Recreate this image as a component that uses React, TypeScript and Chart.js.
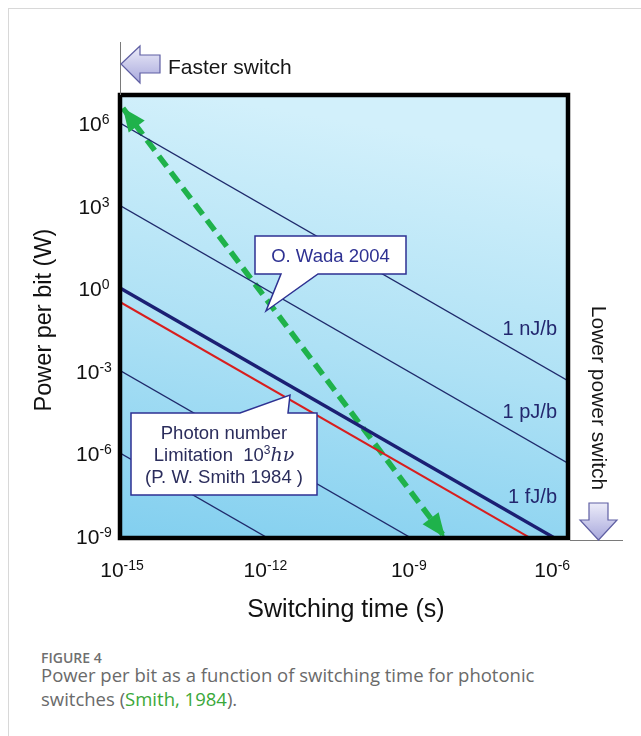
import React, { useEffect, useRef } from "react";
import { Chart, registerables } from "chart.js";

Chart.register(...registerables);

// Constant energy-per-bit lines (J per bit): P = E / t
const energyPerBit = [1e-9, 1e-12, 1e-15, 1e-18, 1e-21];
const energyLabels = ["1 nJ/b", "1 pJ/b", "1 fJ/b", "", ""];
// Photon number limitation 10^3 hν (J per bit)
const photonLimitEnergy = [3.1e-16];
// switching times used to span the constant-energy lines (s)
const lineTimes = [1e-16, 1e-4];
// O. Wada 2004 trend arrow (switching time s, power W)
const wadaTimes = [1.15e-15, 6.3e-9];
const wadaPowers = [3.5e6, 8.5e-10];
// tick exponents
const xTickExp = [-15, -12, -9, -6];
const yTickExp = [6, 3, 0, -3, -6, -9];
// axis limits
const xLimits = [1e-15, 2.355e-6];
const yLimits = [8.13e-10, 1.042e7];

const SANS = '"Liberation Sans", Arial, sans-serif';

function drawRuns(
  ctx: CanvasRenderingContext2D,
  runs: { text: string; font: string; dy: number; color?: string }[],
  cx: number,
  baseline: number,
  color: string
) {
  let total = 0;
  const widths = runs.map((r) => {
    ctx.font = r.font;
    const w = ctx.measureText(r.text).width;
    total += w;
    return w;
  });
  let x = cx - total / 2;
  ctx.textAlign = "left";
  ctx.textBaseline = "alphabetic";
  runs.forEach((r, i) => {
    ctx.font = r.font;
    ctx.fillStyle = r.color || color;
    ctx.fillText(r.text, x, baseline + r.dy);
    x += widths[i];
  });
}

function powerLabel(e: number) {
  return [
    { text: "10", font: `21px ${SANS}`, dy: 0 },
    { text: String(e), font: `14px ${SANS}`, dy: -7 },
  ];
}

const decorPlugin = {
  id: "decor",
  beforeDatasetsDraw(chart: any) {
    const { ctx, chartArea: ca } = chart;
    ctx.save();
    const g = ctx.createLinearGradient(ca.left + 80, ca.top, ca.left, ca.bottom);
    g.addColorStop(0, "#d2f0fb");
    g.addColorStop(0.5, "#aee1f5");
    g.addColorStop(1, "#82cfef");
    ctx.fillStyle = g;
    ctx.fillRect(ca.left, ca.top, ca.right - ca.left, ca.bottom - ca.top);
    ctx.restore();
  },
  afterDatasetsDraw(chart: any) {
    const { ctx, chartArea: ca, scales } = chart;
    const xs = scales.x;
    const ys = scales.y;
    ctx.save();

    // arrowheads on the O. Wada trend
    const wadaIndex = chart.data.datasets.length - 1;
    const pts = chart.getDatasetMeta(wadaIndex).data;
    const head = (tip: any, from: any, len: number, half: number) => {
      const dx = tip.x - from.x;
      const dy = tip.y - from.y;
      const d = Math.hypot(dx, dy);
      const ux = dx / d;
      const uy = dy / d;
      const bx = tip.x - ux * len;
      const by = tip.y - uy * len;
      ctx.beginPath();
      ctx.moveTo(tip.x, tip.y);
      ctx.lineTo(bx - uy * half, by + ux * half);
      ctx.lineTo(bx + uy * half, by - ux * half);
      ctx.closePath();
      ctx.fillStyle = "#1fb24b";
      ctx.fill();
    };
    head(pts[0], pts[1], 23, 10);
    head(pts[1], pts[0], 24, 10);

    // labels of the constant energy lines
    ctx.font = `20px ${SANS}`;
    ctx.fillStyle = "#23276e";
    ctx.textAlign = "left";
    ctx.textBaseline = "alphabetic";
    energyPerBit.forEach((E, i) => {
      const label = energyLabels[i];
      if (!label) return;
      const w = ctx.measureText(label).width;
      const xl = ca.right - 11 - w;
      const t = xs.getValueForPixel(xl);
      const py = ys.getPixelForValue(E / t);
      ctx.fillText(label, xl, py - 8);
    });

    // callout: O. Wada 2004
    ctx.beginPath();
    ctx.moveTo(255, 236);
    ctx.lineTo(406, 236);
    ctx.lineTo(406, 274);
    ctx.lineTo(318, 274);
    ctx.lineTo(266, 311);
    ctx.lineTo(281, 274);
    ctx.lineTo(255, 274);
    ctx.closePath();
    ctx.fillStyle = "#ffffff";
    ctx.fill();
    ctx.strokeStyle = "#2e3192";
    ctx.lineWidth = 1.5;
    ctx.stroke();
    ctx.font = `18.5px ${SANS}`;
    ctx.fillStyle = "#2e3192";
    ctx.textAlign = "center";
    ctx.fillText("O. Wada 2004", 330.5, 262);

    // callout: photon number limitation
    ctx.beginPath();
    ctx.moveTo(131, 413);
    ctx.lineTo(240, 413);
    ctx.lineTo(290, 395);
    ctx.lineTo(288, 413);
    ctx.lineTo(317, 413);
    ctx.lineTo(317, 495);
    ctx.lineTo(131, 495);
    ctx.closePath();
    ctx.fillStyle = "#ffffff";
    ctx.fill();
    ctx.strokeStyle = "#2e3192";
    ctx.lineWidth = 1.5;
    ctx.stroke();
    const tc = "#2b2d5c";
    ctx.font = `18.5px ${SANS}`;
    ctx.fillStyle = tc;
    ctx.textAlign = "center";
    ctx.fillText("Photon number", 224, 439);
    drawRuns(
      ctx,
      [
        { text: "Limitation  10", font: `18.5px ${SANS}`, dy: 0 },
        { text: "3", font: `12px ${SANS}`, dy: -7 },
        { text: "hν", font: `italic 19px "DejaVu Serif", "Liberation Serif", serif`, dy: 0 },
      ],
      224,
      461,
      tc
    );
    ctx.font = `18.5px ${SANS}`;
    ctx.fillStyle = tc;
    ctx.textAlign = "center";
    ctx.fillText("(P. W. Smith 1984 )", 224, 483);

    // plot frame
    ctx.strokeStyle = "#000000";
    ctx.lineWidth = 4.5;
    ctx.strokeRect(ca.left, ca.top, ca.right - ca.left, ca.bottom - ca.top);
    ctx.restore();
  },
  afterDraw(chart: any) {
    const { ctx, chartArea: ca, scales } = chart;
    const xs = scales.x;
    const ys = scales.y;
    ctx.save();

    // tick labels
    xTickExp.forEach((e) => {
      const px = xs.getPixelForValue(Math.pow(10, e));
      drawRuns(ctx, powerLabel(e), px + 2, 577, "#111111");
    });
    yTickExp.forEach((e) => {
      const py = ys.getPixelForValue(Math.pow(10, e));
      drawRuns(ctx, powerLabel(e), 94, py + 8, "#111111");
    });

    // axis titles
    ctx.fillStyle = "#111111";
    ctx.font = `25px ${SANS}`;
    ctx.textAlign = "center";
    ctx.textBaseline = "alphabetic";
    ctx.fillText("Switching time (s)", (ca.left + ca.right) / 2 + 2, 617);
    ctx.save();
    ctx.translate(45, 320);
    ctx.rotate(-Math.PI / 2);
    ctx.font = `23.5px ${SANS}`;
    ctx.textBaseline = "middle";
    ctx.fillText("Power per bit (W)", 0, 0);
    ctx.restore();

    // axis extension lines
    ctx.strokeStyle = "#7a7a7a";
    ctx.lineWidth = 1;
    ctx.beginPath();
    ctx.moveTo(ca.left + 0.5, 42);
    ctx.lineTo(ca.left + 0.5, ca.top);
    ctx.moveTo(ca.right + 2, ca.bottom + 2.5);
    ctx.lineTo(623, ca.bottom + 2.5);
    ctx.stroke();

    const blockFill = (y0: number, y1: number) => {
      const g = ctx.createLinearGradient(0, y0, 0, y1);
      g.addColorStop(0, "#ececf9");
      g.addColorStop(1, "#a8a8dc");
      return g;
    };

    // Faster switch arrow
    ctx.beginPath();
    ctx.moveTo(121, 64);
    ctx.lineTo(140, 46);
    ctx.lineTo(140, 55);
    ctx.lineTo(160, 55);
    ctx.lineTo(160, 73);
    ctx.lineTo(140, 73);
    ctx.lineTo(140, 83);
    ctx.closePath();
    ctx.fillStyle = blockFill(46, 83);
    ctx.fill();
    ctx.strokeStyle = "#5f5fa3";
    ctx.lineWidth = 1.2;
    ctx.stroke();
    ctx.fillStyle = "#161616";
    ctx.font = `21px ${SANS}`;
    ctx.textAlign = "left";
    ctx.fillText("Faster switch", 168, 74);

    // Lower power switch arrow
    ctx.beginPath();
    ctx.moveTo(589, 503);
    ctx.lineTo(608, 503);
    ctx.lineTo(608, 520);
    ctx.lineTo(617, 520);
    ctx.lineTo(598.5, 540);
    ctx.lineTo(580, 520);
    ctx.lineTo(589, 520);
    ctx.closePath();
    ctx.fillStyle = blockFill(503, 540);
    ctx.fill();
    ctx.strokeStyle = "#5f5fa3";
    ctx.stroke();
    ctx.save();
    ctx.translate(598, 398);
    ctx.rotate(Math.PI / 2);
    ctx.fillStyle = "#161616";
    ctx.font = `21px ${SANS}`;
    ctx.textAlign = "center";
    ctx.textBaseline = "middle";
    ctx.fillText("Lower power switch", 0, 0);
    ctx.restore();

    ctx.restore();
  },
};

export default function App() {
  const ref = useRef<HTMLCanvasElement>(null);

  useEffect(() => {
    const datasets: any[] = [
      ...energyPerBit.map((E, i) => ({
        label: energyLabels[i] || `${E} J/b`,
        data: lineTimes.map((t) => ({ x: t, y: E / t })),
        borderColor: i === 2 ? "#1b1f73" : "#1f2a6b",
        borderWidth: i === 2 ? 3.4 : 1.3,
        pointRadius: 0,
        tension: 0,
      })),
      {
        label: "Photon number limitation",
        data: lineTimes.map((t) => ({ x: t, y: photonLimitEnergy[0] / t })),
        borderColor: "#d81e1e",
        borderWidth: 2,
        pointRadius: 0,
        tension: 0,
      },
      {
        label: "O. Wada 2004",
        data: wadaTimes.map((t, i) => ({ x: t, y: wadaPowers[i] })),
        borderColor: "#1fb24b",
        borderWidth: 5.5,
        borderDash: [13, 7],
        borderCapStyle: "butt",
        pointRadius: 0,
        tension: 0,
      },
    ];

    const chart = new Chart(ref.current as HTMLCanvasElement, {
      type: "line",
      data: { datasets },
      options: {
        responsive: false,
        animation: false,
        devicePixelRatio: 1,
        layout: { padding: { left: 120, top: 95, right: 73, bottom: 102 } },
        plugins: {
          legend: { display: false },
          tooltip: { enabled: false },
          title: { display: false },
        },
        events: [],
        scales: {
          x: {
            type: "logarithmic",
            min: xLimits[0],
            max: xLimits[1],
            bounds: "data",
            display: false,
          },
          y: {
            type: "logarithmic",
            min: yLimits[0],
            max: yLimits[1],
            bounds: "data",
            display: false,
          },
        },
      } as any,
      plugins: [decorPlugin],
    });
    return () => chart.destroy();
  }, []);

  const capFont = '"Open Sans", "Noto Sans", sans-serif';
  return (
    <div
      style={{
        position: "absolute",
        left: 0,
        top: 0,
        width: 641,
        height: 736,
        overflow: "hidden",
        background: "#ffffff",
      }}
    >
      <div
        style={{
          position: "absolute",
          left: 8,
          top: 8,
          width: 800,
          height: 900,
          borderLeft: "1px solid #d8d8d8",
          borderTop: "1px solid #d8d8d8",
        }}
      />
      <canvas
        ref={ref}
        width={641}
        height={640}
        style={{ position: "absolute", left: 0, top: 0, width: 641, height: 640 }}
      />
      <div
        style={{
          position: "absolute",
          left: 41,
          top: 649.5,
          fontFamily: capFont,
          fontSize: 14,
          lineHeight: "16px",
          fontWeight: 600,
          color: "#6f6f6f",
          whiteSpace: "nowrap",
        }}
      >
        FIGURE 4
      </div>
      <div
        style={{
          position: "absolute",
          left: 41,
          top: 663,
          fontFamily: capFont,
          fontSize: 18.5,
          lineHeight: "24px",
          color: "#6a6a6a",
          whiteSpace: "nowrap",
        }}
      >
        Power per bit as a function of switching time for photonic
        <br />
        switches (<span style={{ color: "#3aa83a" }}>Smith, 1984</span>).
      </div>
    </div>
  );
}
